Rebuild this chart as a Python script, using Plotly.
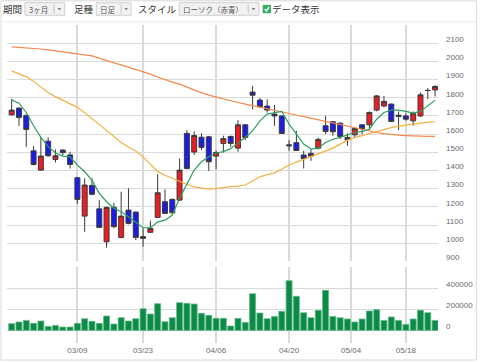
import plotly.graph_objects as go

# ---------------- data ----------------
dates = ['02/25', '02/26', '02/27', '02/28', '03/02', '03/03', '03/04', '03/05', '03/06',
         '03/09', '03/10', '03/11', '03/12', '03/13', '03/16', '03/17', '03/18', '03/19',
         '03/23', '03/24', '03/25', '03/26', '03/27', '03/30', '03/31', '04/01', '04/02', '04/03',
         '04/06', '04/07', '04/08', '04/09', '04/10', '04/13', '04/14', '04/15', '04/16', '04/17',
         '04/20', '04/21', '04/22', '04/23', '04/24', '04/27', '04/28', '04/30', '05/01',
         '05/07', '05/08', '05/11', '05/12', '05/13', '05/14', '05/15',
         '05/18', '05/19', '05/20', '05/21', '05/22']

open_ = [1706, 1743, 1703, 1508, 1402, 1561, 1461, 1512, 1485, 1360, 1149, 1318, 1189, 1008, 1197,
         1032, 1182, 1171, 1036, 1060, 1142, 1228, 1241, 1237, 1604, 1501, 1583, 1585, 1479, 1549,
         1587, 1523, 1651, 1831, 1787, 1754, 1710, 1700, 1541, 1553, 1485, 1494, 1523, 1646, 1668,
         1660, 1582, 1596, 1651, 1651, 1732, 1755, 1765, 1704, 1700, 1673, 1700, 1840, 1843]
high = [1794, 1748, 1708, 1534, 1582, 1582, 1516, 1517, 1503, 1365, 1357, 1357, 1237, 1202, 1222,
        1283, 1302, 1174, 1082, 1124, 1379, 1296, 1246, 1466, 1622, 1615, 1604, 1590, 1510, 1591,
        1592, 1677, 1654, 1865, 1798, 1792, 1761, 1703, 1567, 1618, 1508, 1516, 1580, 1700, 1671,
        1665, 1604, 1634, 1654, 1725, 1815, 1810, 1768, 1725, 1714, 1725, 1829, 1853, 1869]
low = [1703, 1646, 1530, 1428, 1398, 1476, 1444, 1483, 1411, 1215, 1063, 1264, 1084, 975, 1082,
       1027, 1104, 1017, 981, 1057, 1139, 1161, 1164, 1234, 1406, 1485, 1512, 1398, 1406, 1499,
       1529, 1503, 1567, 1735, 1745, 1719, 1646, 1601, 1508, 1507, 1411, 1453, 1515, 1600, 1591,
       1572, 1536, 1582, 1600, 1622, 1725, 1747, 1667, 1622, 1673, 1646, 1695, 1792, 1807]
close = [1732, 1692, 1626, 1433, 1479, 1481, 1481, 1498, 1433, 1241, 1320, 1269, 1087, 1197, 1091,
         1149, 1109, 1032, 1027, 1082, 1277, 1164, 1167, 1402, 1411, 1592, 1527, 1448, 1499, 1575,
         1549, 1651, 1582, 1814, 1750, 1732, 1700, 1604, 1536, 1510, 1466, 1479, 1571, 1615, 1613,
         1587, 1569, 1631, 1631, 1719, 1810, 1780, 1670, 1697, 1682, 1714, 1816, 1840, 1862]

volume = [63500, 79400, 95000, 66700, 89000, 38000, 47600, 31750, 31750, 66700, 111000, 85700,
          66700, 136500, 60300, 120600, 89000, 111000, 206000, 155600, 254000, 82500, 120600,
          263500, 257000, 250800, 162000, 143000, 114300, 114300, 41300, 114300, 76000, 349000,
          165000, 111000, 133000, 181000, 473000, 324000, 168000, 120600, 190500, 381000, 133000,
          120600, 108000, 79400, 108000, 184000, 197000, 95000, 127000, 95000, 57000, 108000,
          190500, 168000, 95000]

ma5 = [1787, 1770, 1719, 1646, 1582, 1531, 1496, 1479, 1475, 1430, 1393, 1347, 1274, 1228, 1192,
       1173, 1146, 1113, 1085, 1085, 1116, 1127, 1155, 1247, 1329, 1402, 1448, 1475, 1496, 1504,
       1520, 1551, 1581, 1618, 1673, 1710, 1719, 1725, 1655, 1600, 1545, 1518, 1523, 1554, 1572,
       1582, 1596, 1609, 1615, 1627, 1682, 1719, 1732, 1732, 1725, 1715, 1725, 1755, 1787]
ma25 = [1948, 1932, 1915, 1890, 1861, 1829, 1806, 1787, 1768, 1747, 1718, 1686, 1652, 1618, 1586,
        1554, 1529, 1507, 1475, 1437, 1395, 1374, 1357, 1339, 1324, 1310, 1303, 1298, 1300, 1307,
        1311, 1314, 1320, 1342, 1365, 1377, 1387, 1408, 1430, 1446, 1461, 1479, 1493, 1508, 1523,
        1545, 1567, 1581, 1592, 1605, 1616, 1627, 1636, 1644, 1649, 1658, 1663, 1666, 1668]
ma75 = [2080, 2078, 2075, 2073, 2068, 2063, 2058, 2053, 2048, 2043, 2037, 2030, 2018, 2003, 1992,
        1981, 1969, 1957, 1943, 1930, 1914, 1899, 1886, 1875, 1858, 1842, 1827, 1814, 1803, 1792,
        1783, 1774, 1765, 1757, 1747, 1740, 1731, 1723, 1714, 1705, 1696, 1687, 1677, 1669, 1660,
        1652, 1644, 1635, 1626, 1618, 1609, 1603, 1597, 1594, 1592, 1589, 1588, 1587, 1587]

tick_labels = ['03/09', '03/23', '04/06', '04/20', '05/04', '05/18']
price_ticks = list(range(900, 2201, 100))
volume_ticks = [-120000, 0, 200000, 400000, 600000]

# ---------------- helpers ----------------
idx = list(range(len(dates)))


def tick_pos(label):
    for i, d in enumerate(dates):
        if d == label:
            return i
        if d > label:
            return i - 0.5
    return len(dates) - 1


tick_x = [tick_pos(t) for t in tick_labels]

W, H = 480, 363
ML, MR, MT, MB = 7, 40, 25, 20
PW, PH = W - ML - MR, H - MT - MB


def fx(x):
    return (x - ML) / PW


def fy(y):
    return (H - MB - y) / PH


GRID = '#dadada'
TICKFONT = dict(family='Liberation Sans, Arial, sans-serif', size=8, color='#6a6a6a')
JP = 'Noto Sans CJK JP'

fig = go.Figure()

# moving averages
fig.add_trace(go.Scatter(x=idx, y=ma75, mode='lines', line=dict(color='#f5884c', width=1.2),
                         hoverinfo='skip', showlegend=False))
fig.add_trace(go.Scatter(x=idx, y=ma25, mode='lines', line=dict(color='#f4b043', width=1.2),
                         hoverinfo='skip', showlegend=False))
fig.add_trace(go.Scatter(x=idx, y=ma5, mode='lines', line=dict(color='#2e9f62', width=1.2),
                         hoverinfo='skip', showlegend=False))

# candles
fig.add_trace(go.Candlestick(
    x=idx, open=open_, high=high, low=low, close=close,
    increasing=dict(line=dict(color='#3a3a3a', width=1), fillcolor='#ec1c24'),
    decreasing=dict(line=dict(color='#3a3a3a', width=1), fillcolor='#1c1ce8'),
    whiskerwidth=0, hoverinfo='skip', showlegend=False))

# volume
fig.add_trace(go.Bar(x=idx, y=volume, xaxis='x2', yaxis='y2',
                     marker=dict(color='#0b8a48', line=dict(color='#62b985', width=0.8)),
                     hoverinfo='skip', showlegend=False))

# ---------------- toolbar shapes / texts ----------------
shapes = []
annotations = []

# outer frame
shapes.append(dict(type='rect', xref='paper', yref='paper', x0=fx(1), x1=fx(478.5),
                   y0=fy(360), y1=fy(0.8), line=dict(color='#d8d8d8', width=1),
                   fillcolor='rgba(0,0,0,0)', layer='below'))
shapes.append(dict(type='line', xref='paper', yref='paper', x0=fx(1), x1=fx(478.5),
                   y0=fy(21.8), y1=fy(21.8), line=dict(color='#ececec', width=1)))


def button(x0, x1, sep, text, tx):
    shapes.append(dict(type='rect', xref='paper', yref='paper', x0=fx(x0), x1=fx(x1),
                       y0=fy(15.3), y1=fy(2.7), line=dict(color='#cfcfcf', width=1),
                       fillcolor='#f1f1f1'))
    shapes.append(dict(type='line', xref='paper', yref='paper', x0=fx(sep), x1=fx(sep),
                       y0=fy(13.5), y1=fy(4.5), line=dict(color='#c4c4c4', width=1)))
    ax = (sep + x1) / 2
    shapes.append(dict(type='path', xref='paper', yref='paper',
                       path='M {} {} L {} {} L {} {} Z'.format(fx(ax - 2), fy(8), fx(ax + 2), fy(8),
                                                               fx(ax), fy(10.5)),
                       fillcolor='#888888', line=dict(width=0)))
    annotations.append(dict(xref='paper', yref='paper', x=fx(tx), y=fy(9), text=text,
                            showarrow=False, xanchor='center', yanchor='middle',
                            font=dict(family=JP, size=7.5, color='#555555')))


def label(text, cx):
    annotations.append(dict(xref='paper', yref='paper', x=fx(cx), y=fy(8.8), text=text,
                            showarrow=False, xanchor='center', yanchor='middle',
                            font=dict(family=JP, size=9.5, color='#333333')))


label('期間', 12.5)
button(25, 65, 54.3, '3ヶ月', 38.5)
label('足種', 84)
button(96.7, 131.7, 121.7, '日足', 108.5)
label('スタイル', 158.5)
button(180, 260, 249.3, 'ローソク（赤青）', 213.5)

# checkbox
shapes.append(dict(type='rect', xref='paper', yref='paper', x0=fx(264.3), x1=fx(271.8),
                   y0=fy(12.8), y1=fy(5.3), line=dict(color='#27a155', width=0.8),
                   fillcolor='#2fae5f'))
shapes.append(dict(type='path', xref='paper', yref='paper',
                   path='M {} {} L {} {} L {} {}'.format(fx(265.8), fy(9.0), fx(267.6), fy(10.9),
                                                         fx(270.4), fy(7.0)),
                   line=dict(color='white', width=1.3)))
label('データ表示', 297)

# ---------------- layout ----------------
fig.update_layout(
    width=W, height=H,
    margin=dict(l=ML, r=MR, t=MT, b=MB, pad=0),
    paper_bgcolor='white', plot_bgcolor='white',
    showlegend=False,
    boxgap=0.15, boxgroupgap=0.2,
    bargap=0.18,
    shapes=shapes, annotations=annotations,
    xaxis=dict(domain=[0, 1], range=[-0.64, 58.4], anchor='y',
               tickvals=tick_x, showticklabels=False, ticks='',
               showgrid=True, gridcolor=GRID, gridwidth=2, zeroline=False, showline=False,
               rangeslider=dict(visible=False), fixedrange=True),
    xaxis2=dict(domain=[0, 1], matches='x', anchor='y2',
                tickvals=tick_x, ticktext=tick_labels, ticks='', tickfont=TICKFONT,
                ticklabelstandoff=1,
                showgrid=True, gridcolor=GRID, gridwidth=2, zeroline=False, showline=False),
    yaxis=dict(domain=[fy(261.4), 1], range=[900, 2200], side='right', anchor='x',
               tickvals=price_ticks,
               ticktext=[str(v) if v < 2200 else '' for v in price_ticks],
               ticks='', tickfont=TICKFONT, ticklabelstandoff=7, ticklabelshift=-4,
               showgrid=True, gridcolor=GRID, gridwidth=1, zeroline=False, showline=False),
    yaxis2=dict(domain=[0, fy(267.3)], range=[-120000, 600000], side='right', anchor='x2',
                tickvals=volume_ticks,
                ticktext=[str(v) if 0 <= v < 600000 else '' for v in volume_ticks],
                ticks='', tickfont=TICKFONT, ticklabelstandoff=7, ticklabelshift=-4,
                showgrid=True, gridcolor=GRID, gridwidth=1, zeroline=False, showline=False),
)

fig.write_html('out.html', config={'displayModeBar': False, 'staticPlot': True},
               post_script="document.body.style.margin='0';document.body.style.overflow='hidden';")
